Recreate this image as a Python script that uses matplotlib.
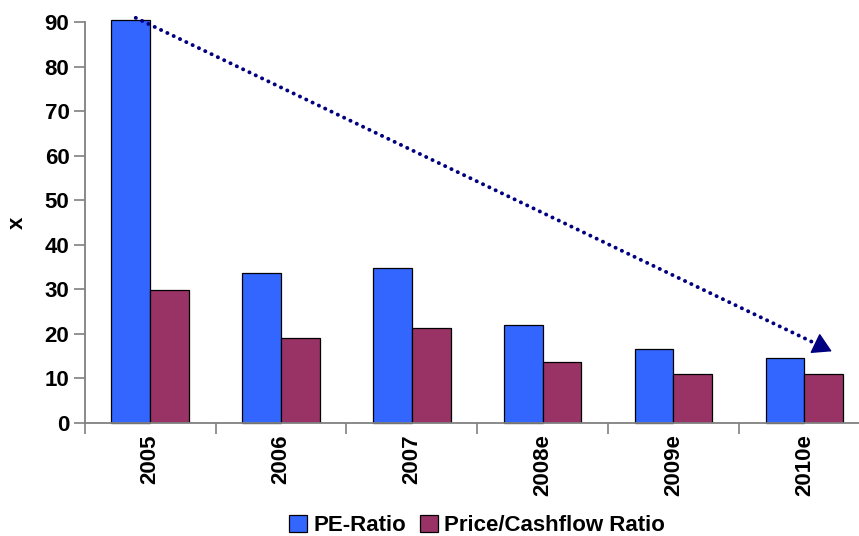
import numpy as np
import matplotlib.pyplot as plt

plt.rcParams['font.family'] = ['Liberation Sans', 'DejaVu Sans']
plt.rcParams['font.weight'] = 'bold'

years = ['2005', '2006', '2007', '2008e', '2009e', '2010e']
pe_ratio = [90.5, 33.6, 34.9, 22.1, 16.6, 14.5]
pcf_ratio = [29.9, 19.1, 21.4, 13.6, 10.9, 11.1]
trend_start = (-0.11, 91.0)
trend_end = (5.21, 16.1)

x = np.arange(len(years))
w = 0.296

fig = plt.figure(figsize=(8.59, 5.36), dpi=100)
ax = fig.add_axes([0.0986, 0.2108, 0.9139, 0.7476])

ax.bar(x - w / 2, pe_ratio, w, color='#3366FF', edgecolor='black', linewidth=0.9,
       label='PE-Ratio', clip_on=False)
ax.bar(x + w / 2, pcf_ratio, w, color='#993366', edgecolor='black', linewidth=0.9,
       label='Price/Cashflow Ratio')

ax.set_xlim(-0.5, 5.5)
ax.set_ylim(0, 90)
ax.set_yticks(range(0, 91, 10))
ax.set_yticklabels([str(v) for v in range(0, 91, 10)], fontsize=16, fontweight='bold')
ax.tick_params(axis='y', length=8, width=1.2, color='#808080', pad=3)
ax.set_xticks(x)
ax.set_xticklabels(years, rotation=90, fontsize=16, fontweight='bold')
ax.tick_params(axis='x', which='major', length=0, pad=8)
ax.set_xticks(np.arange(-0.5, 5.6, 1), minor=True)
ax.tick_params(axis='x', which='minor', length=8, width=1.2, color='#808080')

for s in ['top', 'right']:
    ax.spines[s].set_visible(False)
for s in ['left', 'bottom']:
    ax.spines[s].set_color('#808080')
    ax.spines[s].set_linewidth(1.3)

ax.set_ylabel('x', fontsize=16, fontweight='bold', labelpad=12)

# dotted trend line with a solid head
def along(t):
    return (trend_start[0] + t * (trend_end[0] - trend_start[0]),
            trend_start[1] + t * (trend_end[1] - trend_start[1]))

line_end = along(0.975)
head_base = along(0.982)
ax.plot([trend_start[0], line_end[0]], [trend_start[1], line_end[1]], color='#000080',
        linewidth=2.8, linestyle=(0, (0.05, 1.75)), dash_capstyle='round', clip_on=False)
ax.annotate('', xy=trend_end, xytext=head_base,
            arrowprops=dict(arrowstyle='-|>,head_length=0.6,head_width=0.35',
                            mutation_scale=20, color='#000080',
                            linewidth=1, shrinkA=0, shrinkB=0), annotation_clip=False)

ax.legend(loc='center', bbox_to_anchor=(0.5, -0.255),
          ncol=2, frameon=False, prop={'size': 16, 'weight': 'bold'},
          handlelength=0.8, handleheight=0.8,
          handletextpad=0.3, columnspacing=0.6, borderaxespad=0)

fig.savefig('out.png', dpi=100)
